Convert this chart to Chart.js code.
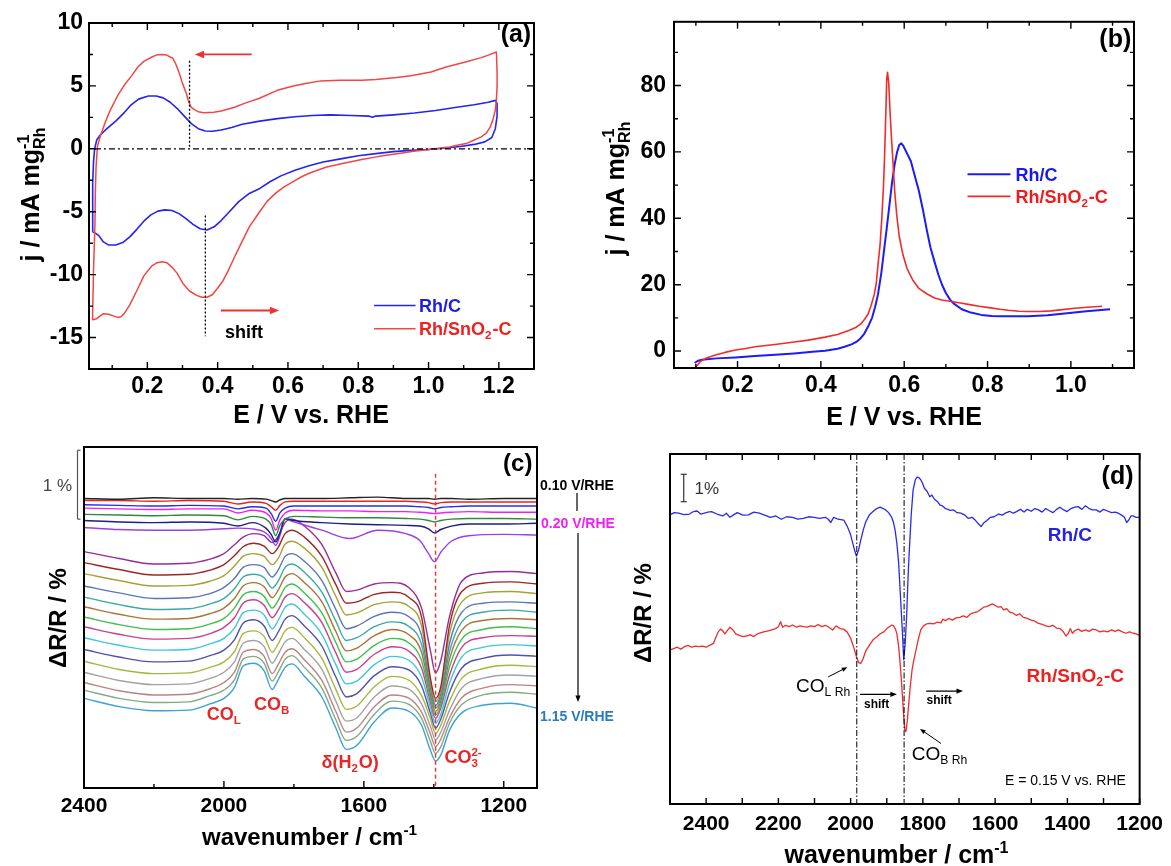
<!DOCTYPE html>
<html>
<head>
<meta charset="utf-8">
<title>Rh/C vs Rh/SnO2-C</title>
<script src="https://cdn.jsdelivr.net/npm/chart.js@4.4.1/dist/chart.umd.min.js"></script>
<style>
  html, body { margin: 0; padding: 0; background: #fff; }
  #page { position: relative; width: 1171px; height: 866px; overflow: hidden; }
  canvas { position: absolute; }
</style>
</head>
<body>
<div id="page">
  <canvas id="ca" width="560" height="430" style="left:0px;top:0px"></canvas>
  <canvas id="cb" width="591" height="430" style="left:580px;top:0px"></canvas>
  <canvas id="cc" width="640" height="436" style="left:0px;top:430px"></canvas>
  <canvas id="cd" width="581" height="436" style="left:590px;top:430px"></canvas>
</div>
<script>
// ---------- panel (a): CV, j / mA mg-1 vs E / V ----------
const A_RHC_E = [0.044,0.044,0.045,0.047,0.050,0.056,0.066,0.085,0.110,0.135,0.154,0.175,0.203,0.225,0.245,0.265,0.285,0.305,0.325,0.345,0.365,0.385,0.41,0.44,0.47,0.52,0.57,0.62,0.67,0.72,0.78,0.83,0.84,0.85,0.90,0.96,1.02,1.08,1.13,1.17,1.19,1.195,1.195,1.19,1.18,1.16,1.13,1.09,1.05,1.0,0.95,0.90,0.85,0.80,0.75,0.70,0.66,0.62,0.58,0.55,0.52,0.49,0.46,0.43,0.41,0.39,0.37,0.35,0.33,0.31,0.29,0.27,0.25,0.23,0.21,0.19,0.17,0.15,0.13,0.11,0.09,0.075,0.062,0.052,0.044];
const A_RHC_J = [-6.6,-4.5,-2.7,-1.0,0.0,0.7,1.1,1.6,2.2,2.9,3.5,3.95,4.2,4.2,4.05,3.7,3.2,2.6,2.0,1.6,1.42,1.4,1.5,1.7,1.95,2.2,2.4,2.55,2.65,2.7,2.65,2.6,2.5,2.6,2.7,2.85,3.05,3.3,3.5,3.7,3.85,3.6,2.6,1.6,0.9,0.55,0.35,0.18,0.06,-0.05,-0.12,-0.22,-0.38,-0.55,-0.8,-1.05,-1.35,-1.7,-2.15,-2.6,-3.15,-3.55,-4.2,-5.1,-5.7,-6.2,-6.45,-6.35,-6.0,-5.55,-5.15,-4.9,-4.85,-4.95,-5.25,-5.75,-6.4,-7.0,-7.45,-7.65,-7.65,-7.4,-6.9,-6.7,-6.6];
const A_SN_E = [0.044,0.05,0.056,0.065,0.075,0.09,0.105,0.115,0.125,0.134,0.15,0.173,0.19,0.213,0.228,0.242,0.255,0.27,0.285,0.301,0.32,0.34,0.355,0.37,0.385,0.399,0.415,0.428,0.448,0.468,0.49,0.517,0.54,0.566,0.59,0.615,0.64,0.664,0.71,0.762,0.81,0.86,0.91,0.958,1.0,1.03,1.06,1.085,1.11,1.13,1.15,1.164,1.175,1.183,1.19,1.193,1.195,1.195,1.193,1.17,1.15,1.105,1.05,1.007,0.95,0.909,0.85,0.81,0.75,0.693,0.65,0.615,0.57,0.517,0.48,0.448,0.41,0.389,0.36,0.345,0.335,0.325,0.318,0.311,0.30,0.291,0.28,0.272,0.255,0.242,0.225,0.213,0.19,0.173,0.155,0.134,0.115,0.095,0.08,0.066,0.058,0.054,0.052,0.051,0.047,0.044];
const A_SN_J = [-13.6,-13.55,-13.5,-13.3,-13.1,-13.15,-13.3,-13.4,-13.35,-13.1,-12.4,-11.1,-10.1,-9.3,-9.05,-8.97,-9.05,-9.4,-9.9,-10.7,-11.3,-11.65,-11.8,-11.8,-11.6,-11.1,-10.5,-9.8,-8.6,-7.45,-6.2,-5.1,-4.2,-3.5,-3.0,-2.6,-2.2,-1.9,-1.45,-1.13,-0.85,-0.6,-0.4,-0.2,-0.05,0.05,0.15,0.3,0.45,0.7,0.95,1.24,1.7,2.3,3.1,3.9,5.0,6.0,7.7,7.45,7.25,6.9,6.5,6.1,5.8,5.66,5.5,5.45,5.45,5.4,5.2,5.0,4.65,4.0,3.65,3.3,3.0,2.9,2.87,2.95,3.1,3.3,3.7,4.4,5.2,6.0,6.8,7.2,7.45,7.5,7.45,7.3,6.95,6.5,5.8,5.05,4.2,3.1,2.1,1.0,0.2,-1.5,-3.5,-5.9,-9.5,-13.6];
const A_XTICKS = [0.2, 0.4, 0.6, 0.8, 1.0, 1.2];
const A_YTICKS = [-15, -10, -5, 0, 5, 10];

// ---------- panel (b): CO stripping ----------
const B_RHC_E = [0.097,0.105,0.115,0.149,0.195,0.242,0.29,0.336,0.38,0.41,0.44,0.457,0.475,0.485,0.495,0.504,0.515,0.523,0.53,0.537,0.545,0.551,0.558,0.565,0.571,0.577,0.583,0.588,0.593,0.598,0.605,0.616,0.625,0.635,0.645,0.654,0.663,0.673,0.682,0.691,0.70,0.71,0.72,0.738,0.76,0.785,0.81,0.832,0.86,0.897,0.944,0.991,1.037,1.094];
const B_RHC_J = [-3.6,-2.9,-2.6,-2.2,-1.9,-1.5,-1.1,-0.7,-0.2,0.1,0.7,1.3,2.1,2.75,3.8,5.2,7.8,10.1,13.2,17,23.5,29.7,37,44.5,51,56.2,60,62.1,62.6,61.8,60,57.2,53,48.4,42.5,36.6,31.2,26.8,23,19.9,17.5,15.5,14.2,12.6,11.6,10.9,10.6,10.5,10.5,10.5,10.8,11.4,12.0,12.6];
const B_SN_E = [0.097,0.104,0.111,0.125,0.149,0.17,0.195,0.22,0.242,0.29,0.336,0.37,0.41,0.44,0.467,0.485,0.495,0.505,0.513,0.52,0.528,0.533,0.537,0.542,0.546,0.55,0.553,0.556,0.558,0.56,0.563,0.566,0.57,0.574,0.577,0.582,0.588,0.597,0.607,0.62,0.635,0.655,0.673,0.69,0.71,0.735,0.757,0.78,0.803,0.83,0.85,0.875,0.897,0.925,0.953,0.98,1.009,1.04,1.075];
const B_SN_J = [-5.1,-4.2,-3.1,-2.1,-1.1,-0.4,0.3,0.8,1.3,2.0,2.75,3.3,4.2,5.0,6.2,7.2,8.1,9.6,11.1,13.5,17,20.5,25.8,32,39.5,49,59.2,72,82,84,80.5,72,63,55,48.4,41,34.6,29,24.8,21.5,18.9,17.2,16.0,15.4,15.0,14.5,14.0,13.5,13.1,12.6,12.3,12.0,11.9,11.9,12.1,12.5,12.9,13.2,13.5];
const B_XTICKS = [0.2, 0.4, 0.6, 0.8, 1.0];
const B_YTICKS = [0, 20, 40, 60, 80];

// ---------- panel (c): in-situ FTIR spectra, 0.10 ... 1.15 V/RHE (offset, %) ----------
const C_WN_TOP = [2400,2300,2200,2100,2000,1960,1920,1880,1865,1852,1840,1825,1800,1720,1640,1560,1480,1440,1415,1398,1380,1350,1300,1200,1105];
const C_010 = [4.20,4.19,4.21,4.20,4.20,4.19,4.20,4.19,4.17,4.15,4.18,4.20,4.20,4.20,4.21,4.22,4.20,4.20,4.20,4.19,4.20,4.20,4.19,4.20,4.20];
const C_015 = [4.17,4.17,4.16,4.17,4.16,4.12,4.15,4.13,4.08,4.03,4.10,4.15,4.16,4.16,4.16,4.16,4.16,4.15,4.14,4.12,4.14,4.15,4.15,4.15,4.15];
const C_020 = [4.11,4.10,4.09,4.10,4.09,4.05,4.08,4.06,3.98,3.87,3.99,4.06,4.09,4.09,4.09,4.09,4.09,4.08,4.07,4.05,4.07,4.08,4.09,4.09,4.09];
const C_025 = [4.06,4.05,4.04,4.05,4.05,3.99,4.03,3.99,3.91,3.74,3.89,3.99,4.03,4.02,4.02,4.01,4.01,4.00,3.99,3.98,3.99,4.00,4.01,4.00,4.00];
const C_030 = [3.97,3.96,3.95,3.96,3.95,3.89,3.94,3.90,3.82,3.66,3.81,3.90,3.94,3.93,3.92,3.92,3.91,3.90,3.88,3.86,3.88,3.90,3.91,3.91,3.90];
const C_035 = [3.88,3.86,3.85,3.86,3.84,3.80,3.85,3.77,3.68,3.57,3.70,3.91,3.88,3.85,3.83,3.82,3.81,3.80,3.76,3.70,3.75,3.80,3.83,3.83,3.84];
const C_040 = [3.78,3.75,3.74,3.74,3.76,3.77,3.76,3.70,3.62,3.52,3.66,3.90,3.86,3.74,3.62,3.74,3.69,3.59,3.40,3.28,3.42,3.58,3.66,3.68,3.67];

const C_WN = [2400,2300,2200,2100,2040,2000,1970,1945,1915,1885,1862,1845,1825,1805,1770,1720,1680,1650,1620,1570,1520,1470,1435,1410,1395,1380,1355,1320,1260,1180,1105];
const C_045 = [3.43,3.33,3.25,3.26,3.32,3.40,3.53,3.64,3.69,3.66,3.56,3.65,3.85,3.90,3.80,3.53,3.12,2.85,2.87,2.96,2.98,2.90,2.61,2.00,1.67,1.85,2.49,3.00,3.12,3.14,3.11];
const C_050 = [3.27,3.17,3.09,3.10,3.16,3.24,3.37,3.50,3.55,3.51,3.40,3.49,3.69,3.74,3.64,3.36,2.95,2.68,2.70,2.81,2.84,2.76,2.48,1.60,1.30,1.47,2.36,2.85,2.97,2.99,2.96];
const C_055 = [3.11,3.01,2.93,2.94,3.00,3.08,3.22,3.36,3.40,3.36,3.24,3.33,3.54,3.58,3.48,3.20,2.78,2.51,2.54,2.66,2.70,2.63,2.35,1.54,1.25,1.42,2.24,2.70,2.83,2.85,2.82];
const C_060 = [2.93,2.83,2.75,2.76,2.82,2.91,3.04,3.20,3.24,3.20,3.06,3.16,3.36,3.40,3.29,3.01,2.59,2.31,2.35,2.49,2.55,2.48,2.21,1.48,1.20,1.37,2.10,2.55,2.68,2.70,2.68];
const C_065 = [2.77,2.66,2.59,2.60,2.67,2.75,2.89,3.06,3.10,3.05,2.90,3.00,3.20,3.25,3.13,2.84,2.42,2.14,2.18,2.34,2.41,2.34,2.08,1.43,1.16,1.31,1.98,2.41,2.55,2.58,2.55];
const C_070 = [2.63,2.52,2.45,2.46,2.53,2.61,2.75,2.93,2.98,2.92,2.76,2.87,3.06,3.11,2.98,2.70,2.27,1.99,2.03,2.21,2.30,2.22,1.97,1.37,1.11,1.26,1.87,2.29,2.43,2.46,2.44];
const C_075 = [2.48,2.37,2.30,2.31,2.38,2.46,2.61,2.80,2.85,2.78,2.61,2.72,2.91,2.96,2.83,2.54,2.11,1.83,1.87,2.07,2.17,2.10,1.85,1.31,1.06,1.21,1.76,2.16,2.30,2.34,2.31];
const C_080 = [2.34,2.23,2.16,2.17,2.24,2.33,2.47,2.68,2.73,2.65,2.47,2.58,2.77,2.82,2.69,2.40,1.96,1.68,1.72,1.94,2.05,1.98,1.74,1.25,1.01,1.16,1.64,2.04,2.18,2.21,2.20];
const C_085 = [2.18,2.07,2.00,2.01,2.09,2.17,2.32,2.54,2.58,2.51,2.31,2.43,2.62,2.67,2.52,2.23,1.79,1.51,1.55,1.79,1.91,1.85,1.61,1.17,0.94,1.07,1.52,1.90,2.04,2.08,2.06];
const C_090 = [2.01,1.90,1.83,1.84,1.92,2.00,2.15,2.39,2.44,2.35,2.14,2.26,2.45,2.50,2.35,2.06,1.61,1.32,1.37,1.63,1.76,1.71,1.48,1.09,0.87,1.00,1.39,1.74,1.88,1.93,1.91];
const C_095 = [1.84,1.72,1.66,1.67,1.75,1.83,1.98,2.24,2.28,2.20,1.97,2.09,2.28,2.33,2.18,1.88,1.43,1.14,1.19,1.47,1.62,1.56,1.34,1.01,0.79,0.91,1.26,1.59,1.73,1.78,1.76];
const C_100 = [1.68,1.56,1.50,1.51,1.59,1.68,1.83,2.10,2.14,2.05,1.81,1.94,2.12,2.17,2.01,1.72,1.26,0.97,1.02,1.32,1.48,1.43,1.22,0.90,0.70,0.81,1.13,1.45,1.59,1.64,1.62];
const C_105 = [1.53,1.41,1.35,1.36,1.44,1.53,1.68,1.97,2.01,1.91,1.66,1.79,1.97,2.02,1.86,1.56,1.11,0.81,0.87,1.18,1.35,1.30,1.10,0.79,0.60,0.71,1.02,1.31,1.45,1.50,1.48];
const C_110 = [1.42,1.30,1.24,1.25,1.34,1.42,1.57,1.87,1.91,1.81,1.55,1.68,1.87,1.92,1.75,1.45,0.99,0.69,0.75,1.07,1.26,1.21,1.01,0.68,0.50,0.60,0.94,1.21,1.35,1.39,1.36];
const C_115 = [1.30,1.18,1.12,1.13,1.22,1.30,1.46,1.77,1.81,1.70,1.43,1.57,1.75,1.80,1.62,1.32,0.87,0.56,0.62,0.96,1.16,1.11,0.91,0.55,0.39,0.48,0.84,1.09,1.20,1.23,1.16];
const C_TOP_SERIES = [C_010, C_015, C_020, C_025, C_030, C_035, C_040];
const C_TOP_COLORS = ['#222222', '#f02020', '#2030f0', '#f020f0', '#2e8b3a', '#1c1c8c', '#9a40e6'];
const C_LOW_SERIES = [C_045, C_050, C_055, C_060, C_065, C_070, C_075, C_080, C_085, C_090, C_095, C_100, C_105, C_110, C_115];
const C_LOW_COLORS = ['#962d9a', '#9c2626', '#a6a236', '#5a76b6', '#3aa8a8', '#aa7436', '#3cc24a', '#cc3f8c', '#3ec8d6', '#5252aa', '#a8b63c', '#a2a2a2', '#b88484', '#84aa84', '#3aa2d6'];
const C_XTICKS = [2400, 2000, 1600, 1200];

// ---------- panel (d): spectra at 0.15 V (offset, %) ----------
const D_RHC_WN = [2500,2488,2476,2462,2446,2435,2425,2415,2405,2395,2385,2370,2354,2344,2334,2324,2314,2298,2283,2268,2253,2238,2222,2207,2192,2177,2161,2146,2131,2116,2101,2086,2070,2062,2055,2047,2035,2019,2009,2000,1994,1988,1984,1978,1972,1965,1958,1948,1938,1928,1918,1910,1903,1895,1887,1882,1877,1872,1867,1862,1857,1853,1849,1845,1841,1837,1832,1827,1821,1816,1811,1806,1801,1796,1788,1781,1775,1768,1760,1753,1746,1738,1730,1725,1715,1705,1695,1685,1674,1664,1654,1644,1639,1632,1623,1613,1603,1590,1580,1572,1560,1550,1541,1530,1520,1511,1500,1490,1480,1470,1460,1451,1440,1430,1421,1410,1401,1390,1380,1370,1360,1350,1340,1330,1320,1310,1300,1289,1278,1268,1259,1250,1242,1236,1230,1224,1218,1210,1200];
const D_RHC = [10.55,10.63,10.61,10.56,10.58,10.67,10.69,10.58,10.61,10.65,10.67,10.58,10.51,10.61,10.46,10.55,10.63,10.54,10.55,10.65,10.61,10.54,10.46,10.51,10.39,10.48,10.46,10.39,10.42,10.48,10.46,10.42,10.46,10.39,10.27,10.46,10.39,10.36,10.12,9.82,9.51,9.21,9.05,9.27,9.63,10.00,10.30,10.55,10.67,10.78,10.83,10.78,10.73,10.63,10.48,10.30,10.00,9.51,8.78,7.56,6.35,5.26,5.86,6.84,8.30,9.39,10.61,11.46,11.83,11.93,11.91,11.83,11.70,11.52,11.40,11.21,11.27,11.12,11.04,10.91,10.88,10.78,10.75,10.71,10.73,10.63,10.61,10.55,10.42,10.46,10.34,10.19,10.12,10.25,10.34,10.46,10.48,10.58,10.54,10.61,10.68,10.61,10.67,10.75,10.65,10.75,10.68,10.78,10.73,10.65,10.78,10.71,10.63,10.75,10.83,10.73,10.67,10.78,10.83,10.85,10.75,10.88,10.78,10.73,10.73,10.65,10.75,10.69,10.63,10.65,10.61,10.54,10.46,10.27,10.36,10.51,10.51,10.46,10.46];
const D_SN_WN = [2500,2490,2480,2470,2460,2450,2440,2430,2420,2410,2400,2390,2380,2372,2366,2360,2354,2348,2340,2334,2326,2318,2308,2298,2288,2278,2268,2258,2248,2238,2228,2218,2208,2200,2194,2188,2180,2170,2160,2150,2140,2130,2120,2110,2100,2090,2080,2070,2060,2050,2040,2030,2020,2010,2000,1992,1984,1978,1972,1966,1958,1948,1938,1928,1918,1908,1900,1893,1886,1881,1876,1872,1867,1863,1859,1856,1853,1850,1847,1843,1839,1835,1830,1825,1820,1813,1806,1798,1790,1780,1770,1760,1750,1745,1738,1728,1718,1708,1698,1688,1678,1668,1658,1648,1640,1632,1624,1616,1608,1600,1592,1584,1576,1568,1560,1550,1541,1532,1522,1511,1500,1490,1480,1470,1460,1451,1440,1430,1421,1412,1404,1398,1392,1386,1380,1370,1360,1350,1340,1330,1320,1310,1300,1289,1278,1268,1259,1248,1238,1228,1218,1210,1200];
const D_SN = [5.62,5.67,5.72,5.65,5.74,5.79,5.72,5.76,5.74,5.76,5.72,5.79,5.86,6.11,6.29,6.38,6.32,6.21,6.35,6.45,6.35,6.21,6.15,6.11,6.13,6.17,6.11,6.21,6.25,6.29,6.32,6.35,6.40,6.47,6.65,6.45,6.52,6.47,6.53,6.45,6.50,6.47,6.45,6.50,6.47,6.55,6.47,6.52,6.45,6.35,6.50,6.40,6.38,6.28,6.05,5.74,5.38,5.16,5.13,5.28,5.59,5.80,5.99,6.09,6.21,6.28,6.40,6.47,6.53,6.50,6.38,6.21,5.74,5.13,4.41,3.79,3.19,2.70,2.64,3.05,3.67,4.28,4.89,5.26,5.56,5.99,6.35,6.50,6.57,6.59,6.57,6.64,6.61,6.74,6.69,6.77,6.71,6.79,6.81,6.86,6.81,6.94,6.98,7.02,7.10,7.18,7.20,7.25,7.30,7.25,7.18,7.20,7.08,7.13,7.00,6.96,6.88,6.94,6.81,6.77,6.71,6.67,6.59,6.55,6.50,6.47,6.52,6.42,6.40,6.30,6.13,6.21,6.40,6.23,6.32,6.38,6.30,6.35,6.30,6.38,6.35,6.28,6.32,6.28,6.35,6.30,6.35,6.28,6.23,6.28,6.23,6.21,6.15];
const D_XTICKS = [2400, 2200, 2000, 1800, 1600, 1400, 1200];

// ---------- drawing helpers ----------
const FONT = '"Liberation Sans", Arial, Helvetica, sans-serif';
const A_BLUE = '#2424f0', A_RED = '#f24646';
const B_BLUE = '#1c1cf6', B_RED = '#f22a2a';
const D_BLUE = '#2a2aea', D_RED = '#ee2c2c';
const LABEL_RED = '#e82626';

function pts(xs, ys) { return xs.map((x, i) => ({ x: x, y: ys[i] })); }

function seg(ctx, x1, y1, x2, y2) {
  ctx.beginPath(); ctx.moveTo(x1, y1); ctx.lineTo(x2, y2); ctx.stroke();
}

function arrow(ctx, x1, y1, x2, y2, color, w, head) {
  const ang = Math.atan2(y2 - y1, x2 - x1);
  ctx.save();
  ctx.strokeStyle = color; ctx.fillStyle = color; ctx.lineWidth = w; ctx.setLineDash([]);
  seg(ctx, x1, y1, x2 - Math.cos(ang) * head * 0.6, y2 - Math.sin(ang) * head * 0.6);
  ctx.beginPath();
  ctx.moveTo(x2, y2);
  ctx.lineTo(x2 - head * Math.cos(ang - 0.38), y2 - head * Math.sin(ang - 0.38));
  ctx.lineTo(x2 - head * Math.cos(ang + 0.38), y2 - head * Math.sin(ang + 0.38));
  ctx.closePath(); ctx.fill();
  ctx.restore();
}

// parts: plain strings, or {sup, sub} drawn small (stacked when both given)
function rich(ctx, parts, x, y, o) {
  const size = o.size || 18, wt = o.weight || 'bold', small = size * 0.64;
  const big = wt + ' ' + size + 'px ' + FONT, sm = wt + ' ' + small + 'px ' + FONT;
  const segs = parts.map(p => {
    if (typeof p === 'string') { ctx.font = big; return { p: p, w: ctx.measureText(p).width }; }
    ctx.font = sm;
    return { p: p, w: Math.max(p.sup ? ctx.measureText(p.sup).width : 0, p.sub ? ctx.measureText(p.sub).width : 0) + 1 };
  });
  const total = segs.reduce((s, g) => s + g.w, 0);
  ctx.save();
  ctx.translate(x, y);
  if (o.rotate) ctx.rotate(o.rotate);
  let cx = o.align === 'center' ? -total / 2 : (o.align === 'right' ? -total : 0);
  const base = size * 0.36;
  ctx.fillStyle = o.color || '#000';
  ctx.textAlign = 'left';
  ctx.textBaseline = 'alphabetic';
  segs.forEach(g => {
    if (typeof g.p === 'string') { ctx.font = big; ctx.fillText(g.p, cx, base); }
    else {
      ctx.font = sm;
      if (g.p.sup) ctx.fillText(g.p.sup, cx, base - size * 0.42);
      if (g.p.sub) ctx.fillText(g.p.sub, cx, base + size * 0.22);
    }
    cx += g.w;
  });
  ctx.restore();
}

// frame + inward ticks + panel-specific annotations
function deco(cfg) {
  return {
    id: 'deco',
    afterDatasetsDraw(chart) {
      const ctx = chart.ctx, a = chart.chartArea;
      const sx = chart.scales.x, sy = chart.scales.y;
      ctx.save();
      ctx.strokeStyle = '#000';
      ctx.lineWidth = 1.4;
      ctx.beginPath();
      const t = cfg.ticks;
      const xt = (vals, len) => vals.forEach(v => {
        const p = sx.getPixelForValue(v);
        if (t.xb) { ctx.moveTo(p, a.bottom); ctx.lineTo(p, a.bottom - len); }
        if (t.xt) { ctx.moveTo(p, a.top); ctx.lineTo(p, a.top + len); }
      });
      const yt = (vals, len) => vals.forEach(v => {
        const p = sy.getPixelForValue(v);
        if (t.yl) { ctx.moveTo(a.left, p); ctx.lineTo(a.left + len, p); }
        if (t.yr) { ctx.moveTo(a.right, p); ctx.lineTo(a.right - len, p); }
      });
      xt(t.xMajor || [], t.major || 7); xt(t.xMinor || [], t.minor || 4);
      yt(t.yMajor || [], t.major || 7); yt(t.yMinor || [], t.minor || 4);
      ctx.stroke();
      ctx.lineWidth = 2;
      ctx.strokeRect(a.left, a.top, a.right - a.left, a.bottom - a.top);
      const px = v => sx.getPixelForValue(v), py = v => sy.getPixelForValue(v);
      const pg = (x, y) => [x - cfg.off[0], y - cfg.off[1]];
      cfg.draw(ctx, px, py, pg, a);
      ctx.restore();
    }
  };
}

function makeChart(id, o) {
  const font = { family: FONT, size: o.tickSize, weight: 'bold' };
  return new Chart(document.getElementById(id), {
    type: 'scatter',
    data: { datasets: o.datasets },
    options: {
      responsive: false, animation: false, events: [],
      layout: { padding: { top: o.pad[0], right: o.pad[1], bottom: 0, left: 0 } },
      plugins: { legend: { display: false }, tooltip: { enabled: false } },
      elements: { point: { radius: 0 } },
      scales: {
        x: {
          type: 'linear', min: o.x[0], max: o.x[1], reverse: !!o.reverse,
          grid: { display: false, drawTicks: false }, border: { display: false },
          ticks: { font: font, color: '#000', padding: o.xPad, maxRotation: 0, autoSkip: false, callback: o.xFmt },
          afterBuildTicks: s => { s.ticks = o.xTicks.map(v => ({ value: v })); },
          afterFit: s => { s.height = o.xH; }
        },
        y: {
          type: 'linear', min: o.y[0], max: o.y[1],
          grid: { display: false, drawTicks: false }, border: { display: false },
          ticks: { display: !!o.yTicks, font: font, color: '#000', padding: o.yPad, autoSkip: false, callback: v => String(v) },
          afterBuildTicks: s => { s.ticks = (o.yTicks || []).map(v => ({ value: v })); },
          afterFit: s => { s.width = o.yW; }
        }
      }
    },
    plugins: [deco(o.deco)]
  });
}

function line(data, color, width, extra) {
  return Object.assign({ data: data, showLine: true, borderColor: color, borderWidth: width, pointRadius: 0, fill: false, borderJoinStyle: 'round' }, extra || {});
}

// ---------- (a) ----------
makeChart('ca', {
  x: [0.034, 1.30], y: [-17.5, 10], pad: [23, 26], xH: 61, yW: 89, xPad: 4, yPad: 6, tickSize: 23,
  xTicks: A_XTICKS, yTicks: A_YTICKS, xFmt: v => v.toFixed(1),
  datasets: [line(pts(A_SN_E, A_SN_J), A_RED, 1.5), line(pts(A_RHC_E, A_RHC_J), A_BLUE, 1.6)],
  deco: {
    off: [0, 0],
    ticks: { xb: 1, xt: 1, yl: 1, yr: 1, xMajor: A_XTICKS, xMinor: [0.1, 0.3, 0.5, 0.7, 0.9, 1.1], yMajor: A_YTICKS, yMinor: [-12.5, -7.5, -2.5, 2.5, 7.5] },
    draw(ctx, px, py, pg, a) {
      ctx.strokeStyle = '#000'; ctx.lineWidth = 1.3;
      ctx.setLineDash([6, 3, 2, 3]);
      seg(ctx, px(0.051), py(0), a.right, py(0));
      ctx.setLineDash([2, 2]);
      seg(ctx, px(0.32), py(7.0), px(0.32), py(0.1));
      seg(ctx, px(0.365), py(-5.3), px(0.365), py(-14.9));
      ctx.setLineDash([]);
      arrow(ctx, px(0.497), py(7.5), px(0.335), py(7.5), '#f03030', 1.8, 10);
      arrow(ctx, px(0.409), py(-12.85), px(0.575), py(-12.85), '#f03030', 1.8, 10);
      rich(ctx, ['shift'], px(0.475), py(-14.5), { size: 18, align: 'center' });
      ctx.lineWidth = 1.6; ctx.strokeStyle = A_BLUE; seg(ctx, px(0.845), py(-12.45), px(0.963), py(-12.45));
      ctx.lineWidth = 1.5; ctx.strokeStyle = A_RED; seg(ctx, px(0.845), py(-14.3), px(0.963), py(-14.3));
      rich(ctx, ['Rh/C'], px(0.973), py(-12.45), { size: 18, color: '#1c1ce6' });
      rich(ctx, ['Rh/SnO', { sub: '2' }, '-C'], px(0.973), py(-14.3), { size: 18, color: '#ee2020' });
      rich(ctx, ['(a)'], px(1.292), py(9.2), { size: 25, align: 'right' });
      let p = pg(311, 414);
      rich(ctx, ['E / V vs. RHE'], p[0], p[1], { size: 25, align: 'center' });
      p = pg(30, 194);
      rich(ctx, ['j / mA mg', { sup: '-1', sub: 'Rh' }], p[0], p[1], { size: 25, align: 'center', rotate: -Math.PI / 2 });
    }
  }
});

// ---------- (b) ----------
makeChart('cb', {
  x: [0.0475, 1.1515], y: [-5.1, 99.2], pad: [14, 37], xH: 62, yW: 94, xPad: 4, yPad: 8, tickSize: 23,
  xTicks: B_XTICKS, yTicks: B_YTICKS, xFmt: v => v.toFixed(1),
  datasets: [line(pts(B_SN_E, B_SN_J), B_RED, 1.6), line(pts(B_RHC_E, B_RHC_J), B_BLUE, 2)],
  deco: {
    off: [580, 0],
    ticks: { xb: 1, xt: 1, yl: 1, yr: 1, xMajor: B_XTICKS, xMinor: [0.1, 0.3, 0.5, 0.7, 0.9, 1.1], yMajor: B_YTICKS, yMinor: [10, 30, 50, 70, 90] },
    draw(ctx, px, py, pg, a) {
      ctx.lineWidth = 2; ctx.strokeStyle = B_BLUE; seg(ctx, px(0.752), py(53.3), px(0.855), py(53.3));
      ctx.lineWidth = 1.6; ctx.strokeStyle = B_RED; seg(ctx, px(0.752), py(46.6), px(0.855), py(46.6));
      rich(ctx, ['Rh/C'], px(0.867), py(53.3), { size: 18, color: '#1a1ae8' });
      rich(ctx, ['Rh/SnO', { sub: '2' }, '-C'], px(0.867), py(46.6), { size: 18, color: '#ee1c1c' });
      rich(ctx, ['(b)'], px(1.145), py(94.3), { size: 25, align: 'right' });
      let p = pg(904, 416);
      rich(ctx, ['E / V vs. RHE'], p[0], p[1], { size: 25, align: 'center' });
      p = pg(615, 188);
      rich(ctx, ['j / mA mg', { sup: '-1', sub: 'Rh' }], p[0], p[1], { size: 25, align: 'center', rotate: -Math.PI / 2 });
    }
  }
});

// ---------- (c) ----------
const cSets = [];
C_TOP_SERIES.forEach((s, i) => cSets.push(line(pts(C_WN_TOP, s), C_TOP_COLORS[i], 1.4, { cubicInterpolationMode: 'monotone' })));
C_LOW_SERIES.forEach((s, i) => cSets.push(line(pts(C_WN, s), C_LOW_COLORS[i], 1.4, { cubicInterpolationMode: 'monotone' })));
makeChart('cc', {
  x: [2400, 1105], reverse: true, y: [0, 4.947], pad: [17, 103], xH: 78, yW: 84, xPad: 6, tickSize: 21,
  xTicks: C_XTICKS, xFmt: v => String(v),
  datasets: cSets,
  deco: {
    off: [0, 430],
    ticks: { xb: 1, xMajor: C_XTICKS, xMinor: [2200, 1800, 1400] },
    draw(ctx, px, py, pg, a) {
      ctx.strokeStyle = '#f03030'; ctx.lineWidth = 1.4; ctx.setLineDash([4, 3]);
      seg(ctx, px(1395), py(4.56), px(1395), a.bottom);
      ctx.setLineDash([]);
      ctx.strokeStyle = '#555'; ctx.lineWidth = 1.2;
      const bx = a.left - 6.5;
      seg(ctx, bx, py(4.90), bx, py(3.90));
      seg(ctx, bx, py(4.90), bx + 3, py(4.90));
      seg(ctx, bx, py(3.90), bx + 3, py(3.90));
      rich(ctx, ['1 %'], a.left - 12, py(4.40), { size: 17, weight: 'normal', color: '#444', align: 'right' });
      rich(ctx, ['CO', { sub: 'L' }], px(1999), py(1.08), { size: 18, color: LABEL_RED, align: 'center' });
      rich(ctx, ['CO', { sub: 'B' }], px(1862), py(1.23), { size: 18, color: LABEL_RED, align: 'center' });
      rich(ctx, ['\u03b4(H', { sub: '2' }, 'O)'], px(1639), py(0.38), { size: 18, color: LABEL_RED, align: 'center' });
      rich(ctx, ['CO', { sup: '2-', sub: '3' }], px(1315), py(0.45), { size: 18, color: LABEL_RED, align: 'center' });
      rich(ctx, ['(c)'], px(1118), py(4.72), { size: 24, align: 'right' });
      let p = pg(540, 485);
      rich(ctx, ['0.10 V/RHE'], p[0], p[1], { size: 14 });
      p = pg(541, 523);
      rich(ctx, ['0.20 V/RHE'], p[0], p[1], { size: 14, color: '#f020f0' });
      p = pg(540, 716);
      rich(ctx, ['1.15 V/RHE'], p[0], p[1], { size: 14, color: '#2b7bbd' });
      ctx.strokeStyle = '#000'; ctx.lineWidth = 1.2;
      let q = pg(577, 493), r = pg(577, 511);
      seg(ctx, q[0], q[1], r[0], r[1]);
      q = pg(578, 533); r = pg(578, 702);
      arrow(ctx, q[0], q[1], r[0], r[1], '#000', 1.2, 7);
      p = pg(310, 836);
      rich(ctx, ['wavenumber / cm', { sup: '-1' }], p[0], p[1], { size: 24, align: 'center' });
      p = pg(57, 618);
      rich(ctx, ['\u0394R/R / %'], p[0], p[1], { size: 24, align: 'center', rotate: -Math.PI / 2 });
    }
  }
});

// ---------- (d) ----------
makeChart('cd', {
  x: [2500, 1200], reverse: true, y: [0, 12.77], pad: [24, 26], xH: 62, yW: 80, xPad: 8, tickSize: 21,
  xTicks: D_XTICKS, xFmt: v => String(v),
  datasets: [line(pts(D_RHC_WN, D_RHC), D_BLUE, 1.3), line(pts(D_SN_WN, D_SN), D_RED, 1.3)],
  deco: {
    off: [590, 430],
    ticks: { xb: 1, xt: 1, major: 6, minor: 6, xMajor: D_XTICKS, xMinor: [2300, 2100, 1900, 1700, 1500, 1300] },
    draw(ctx, px, py, pg, a) {
      ctx.strokeStyle = '#000'; ctx.lineWidth = 1; ctx.setLineDash([6, 2, 1.5, 2]);
      seg(ctx, px(1983), a.top, px(1983), a.bottom);
      seg(ctx, px(1852), a.top, px(1852), a.bottom);
      ctx.setLineDash([]);
      ctx.strokeStyle = '#333'; ctx.lineWidth = 1.2;
      const bx = px(2462);
      seg(ctx, bx, py(12.03), bx, py(11.03));
      seg(ctx, bx - 3, py(12.03), bx + 3, py(12.03));
      seg(ctx, bx - 3, py(11.03), bx + 3, py(11.03));
      rich(ctx, ['1%'], px(2432), py(11.54), { size: 17, weight: 'normal', color: '#333' });
      rich(ctx, ['(d)'], px(1217), py(11.99), { size: 25, align: 'right' });
      rich(ctx, ['Rh/C'], px(1393), py(9.86), { size: 19, color: '#2323e6', align: 'center' });
      rich(ctx, ['Rh/SnO', { sub: '2' }, '-C'], px(1378), py(4.71), { size: 19, color: '#ee2020', align: 'center' });
      rich(ctx, ['CO', { sub: 'L Rh' }], px(2151), py(4.35), { size: 19, weight: 'normal' });
      rich(ctx, ['CO', { sub: 'B Rh' }], px(1831), py(1.85), { size: 19, weight: 'normal' });
      arrow(ctx, px(2062), py(4.64), px(2009), py(4.99), '#000', 1, 6);
      arrow(ctx, px(1750), py(2.21), px(1808), py(2.74), '#000', 1, 6);
      arrow(ctx, px(1974), py(4.00), px(1872), py(4.00), '#000', 1.2, 7);
      arrow(ctx, px(1791), py(4.12), px(1689), py(4.12), '#000', 1.2, 7);
      rich(ctx, ['shift'], px(1928), py(3.67), { size: 12, align: 'center' });
      rich(ctx, ['shift'], px(1755), py(3.79), { size: 12, align: 'center' });
      rich(ctx, ['E = 0.15 V vs. RHE'], px(1238), py(0.87), { size: 14, weight: 'normal', align: 'right' });
      let p = pg(897, 854);
      rich(ctx, ['wavenumber / cm', { sup: '-1' }], p[0], p[1], { size: 25, align: 'center' });
      p = pg(642, 613);
      rich(ctx, ['\u0394R/R / %'], p[0], p[1], { size: 24, align: 'center', rotate: -Math.PI / 2 });
    }
  }
});
</script>
</body>
</html>
